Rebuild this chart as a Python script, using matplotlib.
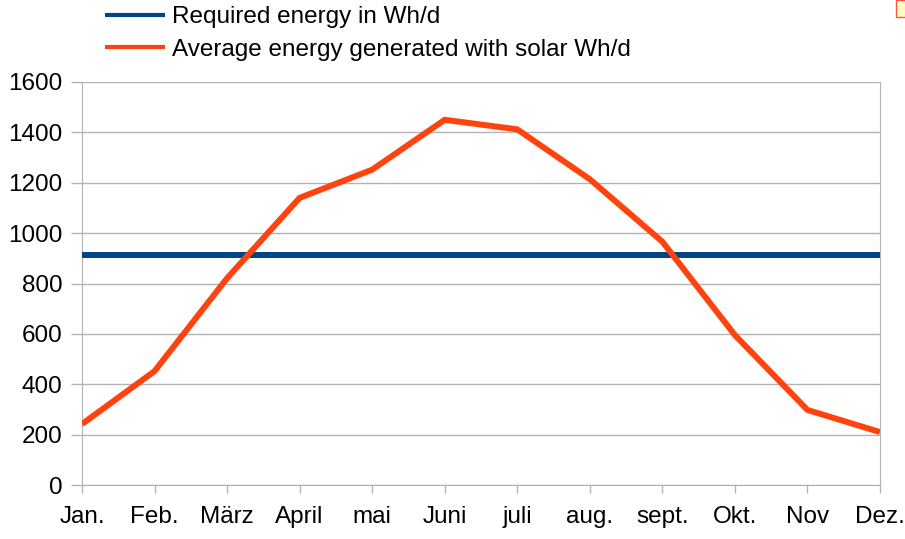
import matplotlib
matplotlib.use("Agg")
import matplotlib.pyplot as plt
from matplotlib.patches import Rectangle

plt.rcParams['font.family'] = ['Liberation Sans', 'DejaVu Sans']

# data
months = ['Jan.', 'Feb.', 'März', 'April', 'mai', 'Juni', 'juli', 'aug.',
          'sept.', 'Okt.', 'Nov', 'Dez.']
required = [912] * 12
solar = [242, 452, 821, 1140, 1252, 1450, 1412, 1214, 966, 595, 298, 210]
yticks = [0, 200, 400, 600, 800, 1000, 1200, 1400, 1600]

fig = plt.figure(figsize=(9.05, 5.39), dpi=100)
ax = fig.add_axes([82 / 905, 1 - 485 / 539, (880 - 82) / 905, (485 - 82) / 539])

x = range(len(months))
ax.plot(x, required, color='#004586', lw=4.3, solid_capstyle='butt',
        label='Required energy in Wh/d', zorder=3)
ax.plot(x, solar, color='#ff420e', lw=4.3, solid_capstyle='butt',
        solid_joinstyle='miter', label='Average energy generated with solar Wh/d', zorder=4)

ax.set_xlim(0, len(months) - 1)
ax.set_ylim(0, 1600)
ax.set_xticks(list(x))
ax.set_xticklabels(months)
ax.set_yticks(yticks)
ax.yaxis.grid(True, color='#b3b3b3', lw=1)
ax.set_axisbelow(True)
for s in ['left', 'right', 'bottom']:
    ax.spines[s].set_color('#b3b3b3')
ax.spines['top'].set_visible(False)
ax.tick_params(axis='both', colors='#b3b3b3', labelcolor='black',
               labelsize=17.5, width=1)
ax.tick_params(axis='x', length=6, pad=9)
ax.tick_params(axis='y', length=8, pad=6)

leg = fig.legend(loc='upper left', bbox_to_anchor=(105 / 905, 1 - 6 / 539),
                 frameon=False, fontsize=17.5, handlelength=2.47,
                 handletextpad=0.29, labelspacing=0.44, borderpad=0,
                 borderaxespad=0)
for h in leg.get_lines():
    h.set_linewidth(3)

# small comment marker in the top right corner
fig.add_artist(Rectangle((896 / 905, 1 - 17 / 539), 10 / 905, 17 / 539,
                         transform=fig.transFigure, facecolor='#ffffc0',
                         edgecolor='#ff5050', lw=1))

fig.savefig('out.png', dpi=100)
